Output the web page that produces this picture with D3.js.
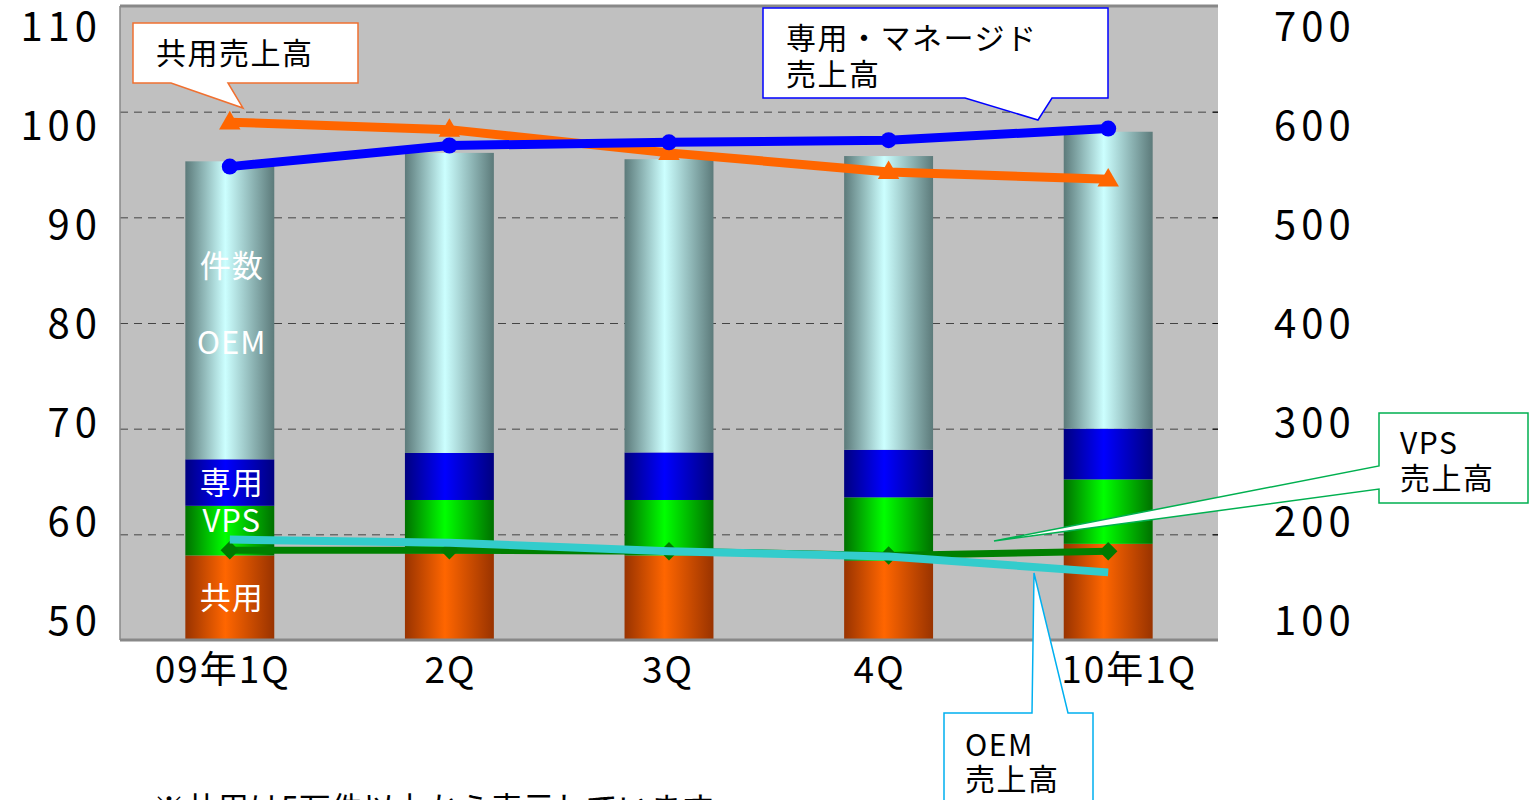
<!DOCTYPE html>
<html>
<head>
<meta charset="utf-8">
<script src="https://cdn.jsdelivr.net/npm/d3@7"></script>
<style>
  html, body { margin: 0; padding: 0; background: #ffffff; }
  svg { display: block; }
  text { font-family: "Noto Sans CJK JP", sans-serif; }
</style>
</head>
<body>
<svg id="chart" width="1530" height="800"></svg>
<script>
// ---------------- data ----------------
const categories = ["09年1Q", "2Q", "3Q", "4Q", "10年1Q"];
// 件数 (left axis), stacked segments
const shareCount     = [58.0, 58.2, 58.0, 57.5, 59.1];   // 共用
const vpsCount       = [4.7, 5.05, 5.25, 6.0, 6.1];      // VPS
const dedicatedCount = [4.4, 4.45, 4.5, 4.5, 4.8];       // 専用
const oemCount       = [28.2, 28.4, 27.75, 27.8, 28.1];  // OEM
// 売上高 (right axis)
const dedicatedSales = [548, 568, 571, 573, 584];  // 専用・マネージド売上高
const shareSales     = [590, 583, 561, 543, 536];  // 共用売上高
const vpsSales       = [185, 185, 184, 180, 184];  // VPS売上高
const oemSales       = [195, 192, 184, 179, 164];  // OEM売上高
const leftTicks  = [50, 60, 70, 80, 90, 100, 110];
const rightTicks = [100, 200, 300, 400, 500, 600, 700];
const gridTicks  = [60, 70, 80, 90, 100];
const footnote = "※共用は5万件以上から表示しています";

// ---------------- layout ----------------
const L = 120, R = 1218, T = 6, B = 640;
const labelShift = [-7, 1, -1, -9, 21];   // x-label horizontal nudges (layout only)
const svg = d3.select("#chart");

const x = d3.scaleBand().domain(categories).range([L, R])
  .paddingInner(0.595).paddingOuter(0.2975);
const yL = d3.scaleLinear().domain([50, 110]).range([B, T]);
const yR = d3.scaleLinear().domain([100, 700]).range([B, T]);
const cx = c => x(c) + x.bandwidth() / 2;

// gradients
const defs = svg.append("defs");
const grads = {
  share:     ["#993300", "#ff6600"],
  vps:       ["#007000", "#00ff00"],
  dedicated: ["#000080", "#0000ff"],
  oem:       ["#5c7a7a", "#ccffff"]
};
Object.entries(grads).forEach(([k, [dark, bright]]) => {
  const g = defs.append("linearGradient").attr("id", "g-" + k)
    .attr("x1", "0%").attr("x2", "100%").attr("y1", "0%").attr("y2", "0%");
  g.append("stop").attr("offset", "0%").attr("stop-color", dark);
  g.append("stop").attr("offset", "45%").attr("stop-color", bright);
  g.append("stop").attr("offset", "100%").attr("stop-color", dark);
});

// plot background
svg.append("rect").attr("x", L).attr("y", T).attr("width", R - L).attr("height", B - T)
  .attr("fill", "#c0c0c0");

// gridlines
svg.append("g").attr("transform", `translate(${L},0)`)
  .call(d3.axisLeft(yL).tickValues(gridTicks).tickSize(-(R - L)).tickFormat(""))
  .call(g => g.select(".domain").remove())
  .call(g => g.selectAll("line").attr("stroke", "#444").attr("stroke-dasharray", "8,6"));

// right axis inner ticks
svg.append("g").attr("transform", `translate(${R},0)`)
  .call(d3.axisLeft(yR).tickValues(rightTicks).tickSize(5).tickFormat(""))
  .call(g => g.select(".domain").remove())
  .call(g => g.selectAll("line").attr("stroke", "#000"));

// stacked bars
const rows = categories.map((c, i) => ({
  cat: c, share: shareCount[i], vps: vpsCount[i],
  dedicated: dedicatedCount[i], oem: oemCount[i]
}));
const keys = ["share", "vps", "dedicated", "oem"];
const series = d3.stack().keys(keys)(rows);
svg.append("g").selectAll("g").data(series).join("g")
  .attr("fill", s => `url(#g-${s.key})`)
  .selectAll("rect").data(s => s).join("rect")
  .attr("x", d => x(d.data.cat))
  .attr("width", x.bandwidth())
  .attr("y", d => yL(d[1]))
  .attr("height", d => yL(Math.max(d[0], 50)) - yL(d[1]));

// labels in first bar
const s0 = Object.fromEntries(series.map(s => [s.key, s[0]]));
const lx = cx(categories[0]);
const mid = (d, f) => yL(Math.max(d[0], 50)) + (yL(d[1]) - yL(Math.max(d[0], 50))) * f;
const barLabels = [
  ["件数", mid(s0.oem, 0.65)],
  ["OEM", mid(s0.oem, 0.39)],
  ["専用", mid(s0.dedicated, 0.5)],
  ["VPS", mid(s0.vps, 0.7)],
  ["共用", mid(s0.share, 0.5)]
];
svg.append("g").selectAll("text").data(barLabels).join("text")
  .attr("x", lx + 2).attr("y", d => d[1]).attr("dy", "0.36em")
  .attr("text-anchor", "middle").attr("fill", "#fff")
  .attr("font-size", 31).attr("letter-spacing", 1)
  .text(d => d[0]);

// plot frame
svg.append("line").attr("x1", L).attr("x2", R).attr("y1", T).attr("y2", T)
  .attr("stroke", "#888").attr("stroke-width", 3);
svg.append("line").attr("x1", L).attr("x2", L).attr("y1", T).attr("y2", B)
  .attr("stroke", "#888").attr("stroke-width", 1.5);
svg.append("line").attr("x1", L).attr("x2", R).attr("y1", B).attr("y2", B)
  .attr("stroke", "#888").attr("stroke-width", 3);

// lines
const line = d3.line().x((d, i) => cx(categories[i])).y(d => yR(d));
function drawLine(vals, color, width) {
  svg.append("path").datum(vals).attr("d", line)
    .attr("fill", "none").attr("stroke", color).attr("stroke-width", width)
    .attr("stroke-linejoin", "round");
}
// VPS (green, diamonds)
drawLine(vpsSales, "#008000", 7);
svg.append("g").selectAll("path").data(vpsSales).join("path")
  .attr("d", d3.symbol(d3.symbolSquare, 170))
  .attr("transform", (d, i) => `translate(${cx(categories[i])},${yR(d)}) rotate(45)`)
  .attr("fill", "#007a00");
// OEM (cyan)
drawLine(oemSales, "#33cccc", 8);
// 共用 (orange, triangles)
drawLine(shareSales, "#ff6600", 9);
svg.append("g").selectAll("path").data(shareSales).join("path")
  .attr("d", d3.symbol(d3.symbolTriangle, 200))
  .attr("transform", (d, i) => `translate(${cx(categories[i])},${yR(d) + 1})`)
  .attr("fill", "#ff6600");
// 専用・マネージド (blue, circles)
drawLine(dedicatedSales, "#0000ff", 9);
svg.append("g").selectAll("circle").data(dedicatedSales).join("circle")
  .attr("cx", (d, i) => cx(categories[i])).attr("cy", d => yR(d)).attr("r", 8)
  .attr("fill", "#0000ff");

// axis labels (left / right)
const yLabL = d3.scaleLinear().domain([50, 110]).range([622, 28]);
const yLabR = d3.scaleLinear().domain([100, 700]).range([622, 28]);
svg.append("g").attr("transform", "translate(102,0)")
  .call(d3.axisLeft(yLabL).tickValues(leftTicks).tickSize(0).tickPadding(0))
  .call(g => g.select(".domain").remove())
  .call(g => g.selectAll("text").attr("font-size", 40).attr("letter-spacing", 5)
    .attr("fill", "#000").attr("font-family", "Noto Sans CJK JP"));
svg.append("g").attr("transform", "translate(1274,0)")
  .call(d3.axisRight(yLabR).tickValues(rightTicks).tickSize(0).tickPadding(0))
  .call(g => g.select(".domain").remove())
  .call(g => g.selectAll("text").attr("font-size", 40).attr("letter-spacing", 5)
    .attr("fill", "#000").attr("font-family", "Noto Sans CJK JP"));

// callouts
function callout(path, stroke, lines, tx, ty, lh) {
  const g = svg.append("g");
  g.append("path").attr("d", path).attr("fill", "#fff")
    .attr("stroke", stroke).attr("stroke-width", 1.5).attr("stroke-linejoin", "miter");
  lines.forEach((t, i) => {
    g.append("text").attr("x", tx).attr("y", ty + i * lh).attr("dy", "0.36em")
      .attr("font-size", 30).attr("fill", "#000").attr("letter-spacing", 1.5).text(t);
  });
}
callout("M133,23 H358 V83 H228 L243,108 L171,83 H133 Z", "#f07030",
  ["共用売上高"], 156, 53, 35);
callout("M763,8 H1108 V98 H1052 L1038,120 L965,98 H763 Z", "#0000ff",
  ["専用・マネージド", "売上高"], 786, 38, 36);
callout("M1379,413 H1528 V503 H1379 V489 L994,541 L1379,466 Z", "#00b050",
  ["VPS", "売上高"], 1400, 443, 35);
callout("M944,713 H1032 L1034,573 L1068,713 H1093 V815 H944 Z", "#00b0f0",
  ["OEM", "売上高"], 965, 745, 34);

// x axis labels
svg.append("g").attr("transform", `translate(0,${B})`)
  .call(d3.axisBottom(x).tickSize(0).tickPadding(17))
  .call(g => g.select(".domain").remove())
  .call(g => g.selectAll("text").attr("font-size", 37).attr("letter-spacing", 2)
    .attr("dx", (d, i) => labelShift[i])
    .attr("fill", "#000").attr("font-family", "Noto Sans CJK JP"));

// footnote
svg.append("text").attr("x", 153).attr("y", 820).attr("font-size", 32)
  .attr("fill", "#000").text(footnote);
</script>
</body>
</html>
